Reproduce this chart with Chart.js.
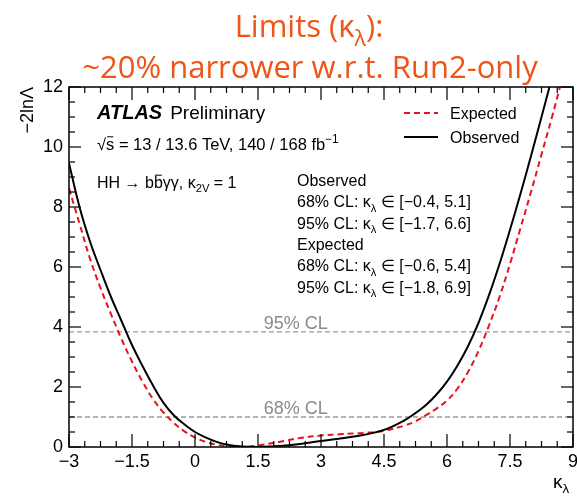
<!DOCTYPE html>
<html lang="en">
<head>
<meta charset="UTF-8">
<title>Limits kappa lambda</title>
<script src="https://cdn.jsdelivr.net/npm/chart.js"></script>
<style>
    body { margin: 0; background: #fff; }
    #c { display: block; }
</style>
</head>
<body>
<canvas id="c" width="577" height="496"></canvas>
<script>
// likelihood scan
var kObs   = [-3, -2.75, -2.5, -2.25, -2, -1.75, -1.5, -1.25, -1, -0.75, -0.5, -0.25, 0, 0.25, 0.5, 0.75, 1, 1.25, 1.5, 2, 2.5, 3, 3.5, 4, 4.5, 5, 5.25, 5.5, 5.75, 6, 6.25, 6.5, 6.75, 7, 7.25, 7.5, 7.75, 8, 8.25, 8.44];
var nllObs = [9.46, 8.0, 6.85, 5.9, 5.0, 4.2, 3.4, 2.7, 2.05, 1.47, 1.05, 0.75, 0.5, 0.32, 0.18, 0.08, 0.03, 0.005, 0.0, 0.03, 0.1, 0.2, 0.29, 0.4, 0.57, 0.9, 1.13, 1.4, 1.75, 2.18, 2.72, 3.36, 4.14, 5.06, 6.1, 7.24, 8.44, 9.7, 11.0, 12];
var kExp   = [-3, -2.75, -2.5, -2.25, -2, -1.75, -1.5, -1.25, -1, -0.75, -0.5, -0.25, 0, 0.25, 0.5, 0.75, 1, 1.25, 1.5, 2, 2.5, 3, 3.5, 4, 4.5, 5, 5.25, 5.5, 5.75, 6, 6.25, 6.5, 6.75, 7, 7.25, 7.5, 7.75, 8, 8.25, 8.5, 8.69];
var nllExp = [8.62, 7.45, 6.28, 5.3, 4.43, 3.6, 2.85, 2.18, 1.6, 1.15, 0.8, 0.52, 0.32, 0.17, 0.08, 0.03, 0.0, 0.01, 0.05, 0.17, 0.3, 0.38, 0.43, 0.47, 0.54, 0.72, 0.86, 1.06, 1.28, 1.55, 1.95, 2.5, 3.2, 4.05, 5.0, 6.1, 7.3, 8.5, 9.75, 11.0, 12];
var clLevels = [1, 3.84];
var clNames  = ['68% CL', '95% CL'];
var clLabelK = 2.4;
var xRange = [-3, 9];
var yRange = [0, 12];

var SANS = '"Liberation Sans", Arial, sans-serif';

function pts(xs, ys) {
    return xs.map(function (x, i) { return { x: x, y: ys[i] }; });
}

// text with sub / superscripts, bold italic and overbars
function rich(ctx, x, y, parts, size, color, measureOnly) {
    var x0 = x;
    parts.forEach(function (p) {
        var t = p[0], k = p[1] || '';
        var fs = size, dy = 0, st = '';
        if (k === 'sub') { fs = size * 0.7; dy = size * 0.28; }
        if (k === 'sup') { fs = size * 0.72; dy = -size * 0.4; }
        if (k === 'bi') st = 'italic bold ';
        ctx.font = st + fs + 'px ' + (p[2] || SANS);
        var w = ctx.measureText(t).width;
        if (!measureOnly) {
            ctx.fillStyle = color;
            ctx.fillText(t, x, y + dy);
            if (k === 'bar') {
                ctx.strokeStyle = color;
                ctx.lineWidth = 1;
                ctx.beginPath();
                ctx.moveTo(x + 1, y - size * 0.8);
                ctx.lineTo(x + w - 1, y - size * 0.8);
                ctx.stroke();
            }
        }
        x += w;
    });
    return x - x0;
}

var decor = {
    id: 'decor',
    afterDraw: function (chart) {
        var ctx = chart.ctx, a = chart.chartArea;
        var xs = chart.scales.x, ys = chart.scales.y;
        ctx.save();
        ctx.textBaseline = 'alphabetic';
        ctx.textAlign = 'left';

        // frame + inner ticks on all four sides
        ctx.strokeStyle = '#000';
        ctx.lineWidth = 1.5;
        ctx.strokeRect(a.left, a.top, a.right - a.left, a.bottom - a.top);
        ctx.lineWidth = 1.2;
        function seg(x1, y1, x2, y2) { ctx.beginPath(); ctx.moveTo(x1, y1); ctx.lineTo(x2, y2); ctx.stroke(); }
        for (var i = 0; i <= 32; i++) {
            var v = xRange[0] + i * 0.375;
            var len = (i % 4 === 0) ? 13 : 6;
            var px = xs.getPixelForValue(v);
            seg(px, a.bottom, px, a.bottom - len);
            seg(px, a.top, px, a.top + len);
        }
        for (var j = 0; j <= 24; j++) {
            var yv = yRange[0] + j * 0.5;
            var ylen = (j % 4 === 0) ? 12 : 6;
            var py = ys.getPixelForValue(yv);
            seg(a.left, py, a.left + ylen, py);
            seg(a.right, py, a.right - ylen, py);
        }

        // CL labels
        ctx.fillStyle = '#8a8a8a';
        ctx.font = '18px ' + SANS;
        ctx.textAlign = 'center';
        clLevels.forEach(function (lv, n) {
            ctx.fillText(clNames[n], xs.getPixelForValue(clLabelK), ys.getPixelForValue(lv) - 3);
        });
        ctx.textAlign = 'left';

        // title
        var TF = '"Open Sans", "Noto Sans", sans-serif';
        var orange = '#ee5516';
        var l1 = [['Limits (κ', '', TF], ['λ', 'sub', TF], ['):', '', TF]];
        var w1 = rich(ctx, 0, 0, l1, 31, orange, true);
        rich(ctx, 309 - w1 / 2, 37, l1, 31, orange);
        ctx.font = '31px ' + TF;
        ctx.fillStyle = orange;
        ctx.textAlign = 'center';
        ctx.fillText('~20% narrower w.r.t. Run2-only', 310, 78);
        ctx.textAlign = 'left';

        // axis titles
        ctx.save();
        ctx.translate(33, a.top);
        ctx.rotate(-Math.PI / 2);
        ctx.textAlign = 'right';
        ctx.fillStyle = '#000';
        ctx.font = '18px ' + SANS;
        ctx.fillText('−2lnΛ', 0, 0);
        ctx.restore();
        rich(ctx, 553, 488, [['κ'], ['λ', 'sub']], 19, '#000');

        // ATLAS label block
        var L = a.left + 28;
        var wA = rich(ctx, L, 119, [['ATLAS', 'bi']], 20, '#000');
        rich(ctx, L + wA + 8, 119, [['Preliminary']], 19, '#000');
        var ws = rich(ctx, L, 150, [['√']], 16.5, '#000');
        rich(ctx, L + ws, 150, [['s', 'bar'], [' = 13 / 13.6 TeV, 140 / 168 fb'], ['−1', 'sup']], 16.5, '#000');
        rich(ctx, L, 188, [['HH → b'], ['b', 'bar'], ['γγ, κ'], ['2V', 'sub'], [' = 1']], 16, '#000');

        // interval summary
        var R = 297, rows = [
            [['Observed']],
            [['68% CL: κ'], ['λ', 'sub'], [' ∈ [−0.4, 5.1]']],
            [['95% CL: κ'], ['λ', 'sub'], [' ∈ [−1.7, 6.6]']],
            [['Expected']],
            [['68% CL: κ'], ['λ', 'sub'], [' ∈ [−0.6, 5.4]']],
            [['95% CL: κ'], ['λ', 'sub'], [' ∈ [−1.8, 6.9]']]
        ];
        rows.forEach(function (r, n) { rich(ctx, R, 186 + n * 21.3, r, 16, '#000'); });

        // legend
        ctx.lineWidth = 2;
        ctx.strokeStyle = '#e8141c';
        ctx.setLineDash([6, 4]);
        seg(404, 113, 438, 113);
        ctx.setLineDash([]);
        ctx.strokeStyle = '#000';
        seg(404, 137, 438, 137);
        rich(ctx, 450, 119, [['Expected']], 16, '#000');
        rich(ctx, 450, 143, [['Observed']], 16, '#000');
        ctx.restore();
    }
};

var datasets = [
    {
        label: 'Observed',
        data: pts(kObs, nllObs),
        borderColor: '#000',
        borderWidth: 2,
        order: 1
    },
    {
        label: 'Expected',
        data: pts(kExp, nllExp),
        borderColor: '#e8141c',
        borderWidth: 2,
        borderDash: [6, 4],
        order: 2
    }
];
clLevels.forEach(function (lv, n) {
    datasets.push({
        label: clNames[n],
        data: [{ x: xRange[0], y: lv }, { x: xRange[1], y: lv }],
        borderColor: '#9a9a9a',
        borderWidth: 1.3,
        borderDash: [5, 3],
        tension: 0,
        order: 3
    });
});

function fmt(v) { return String(v).replace('-', '−'); }

new Chart(document.getElementById('c'), {
    type: 'line',
    data: { datasets: datasets },
    options: {
        responsive: false,
        animation: false,
        events: [],
        layout: { padding: { top: 87, right: 4, left: 0, bottom: 0 } },
        elements: {
            point: { radius: 0 },
            line: { tension: 0.4, fill: false }
        },
        plugins: { legend: { display: false }, tooltip: { enabled: false } },
        scales: {
            x: {
                type: 'linear',
                min: xRange[0], max: xRange[1],
                grid: { display: false, drawTicks: false },
                border: { display: false },
                ticks: {
                    stepSize: 1.5, autoSkip: false, maxRotation: 0,
                    padding: 4, color: '#000',
                    font: { family: SANS, size: 18 },
                    callback: fmt
                },
                afterFit: function (s) { s.height = 49; s.paddingLeft = 0; s.paddingRight = 0; }
            },
            y: {
                min: yRange[0], max: yRange[1],
                grid: { display: false, drawTicks: false },
                border: { display: false },
                ticks: {
                    stepSize: 2, padding: 6, color: '#000',
                    font: { family: SANS, size: 18 },
                    callback: fmt
                },
                afterFit: function (s) { s.width = 69; s.paddingTop = 0; s.paddingBottom = 0; }
            }
        }
    },
    plugins: [decor]
});
</script>
</body>
</html>
